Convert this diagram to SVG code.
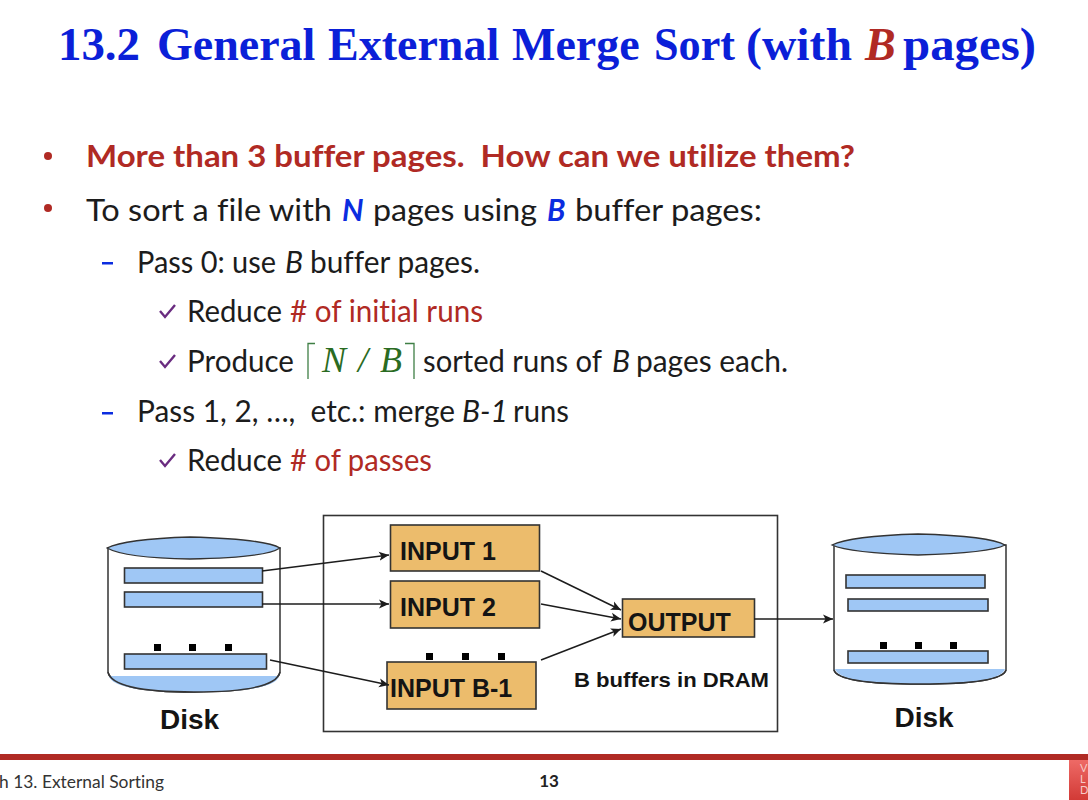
<svg xmlns="http://www.w3.org/2000/svg" width="1088" height="800" viewBox="0 0 1088 800">
<style>
text{font-variant-ligatures:none;white-space:pre}
.t{font-family:"Liberation Serif",serif;font-weight:700;font-size:46px;fill:#0b1fd8}
.b{font-family:Lato,"Open Sans",sans-serif;font-size:30px;fill:#1c1c1c}
.i{font-style:italic}
.e{font-style:italic;font-weight:700;fill:#0b2ce0}
.r{fill:#b02a24}
.a{font-family:"Liberation Sans",Arial,sans-serif;font-weight:700;fill:#141414}
.m{font-family:"Liberation Serif",serif;font-style:italic;font-size:36px;fill:#2a6b22}
.buf{fill:#ecbc6c;stroke:#333;stroke-width:1.6}
.pg{fill:#9fc7f5;stroke:#333;stroke-width:1.6}
.cyl{fill:#fff;stroke:#333;stroke-width:1.5}
.fill{fill:#9fc7f5;stroke:#333;stroke-width:1.3}
.dot{fill:#000}
.c{fill:none;stroke:#1c1c1c;stroke-width:1.5;marker-end:url(#ah)}
</style>
<defs>
<marker id="ah" markerUnits="userSpaceOnUse" markerWidth="11" markerHeight="10" refX="10" refY="5" orient="auto"><path d="M0 .5L10 5L0 9.500L2.500 5Z" fill="#1c1c1c"/></marker>
<linearGradient id="logo" x1="0" y1="0" x2="0" y2="1"><stop offset="0" stop-color="#ee6a66"/><stop offset="1" stop-color="#d23a36"/></linearGradient>
</defs>
<rect width="1088" height="800" fill="#fff"/>
<g id="title">
<text class="t" x="58" y="60" textLength="82" lengthAdjust="spacingAndGlyphs">13.2</text>
<text class="t" x="157" y="60">General</text>
<text class="t" x="328" y="60">External</text>
<text class="t" x="512" y="60">Merge</text>
<text class="t" x="654" y="60" textLength="81" lengthAdjust="spacingAndGlyphs">Sort</text>
<text class="t" x="746" y="60" textLength="106" lengthAdjust="spacingAndGlyphs">(with</text>
<text class="t r" x="865" y="60" font-style="italic">B</text>
<text class="t" x="903" y="60" textLength="133" lengthAdjust="spacingAndGlyphs">pages)</text>
</g>
<g id="bullets">
<circle cx="48" cy="156" r="4" fill="#b02a24"/><circle cx="48" cy="208" r="4" fill="#b02a24"/>
<rect x="102" y="262" width="11" height="2.500" fill="#0b2ce0"/><rect x="102" y="412" width="11" height="2.500" fill="#0b2ce0"/>
<path d="M160 311l5 6l10-12M160 361l5 6l10-12M160 460l5 6l10-12" fill="none" stroke="#6a2c80" stroke-width="2.400"/>
</g>
<g id="body">
<text class="b r" x="86" y="167" font-weight="700" textLength="769" lengthAdjust="spacingAndGlyphs">More than 3 buffer pages.  How can we utilize them?</text>
<text class="b" x="86" y="221" textLength="246" lengthAdjust="spacingAndGlyphs">To sort a file with</text>
<text class="b e" x="342" y="221">N</text>
<text class="b" x="373" y="221" textLength="164" lengthAdjust="spacingAndGlyphs">pages using</text>
<text class="b e" x="547" y="221">B</text>
<text class="b" x="575" y="221" textLength="187" lengthAdjust="spacingAndGlyphs">buffer pages:</text>
<text class="b" x="137" y="273" textLength="139" lengthAdjust="spacingAndGlyphs">Pass 0: use</text>
<text class="b i" x="285" y="273">B</text>
<text class="b" x="310" y="273" textLength="170" lengthAdjust="spacingAndGlyphs">buffer pages.</text>
<text class="b" x="187" y="322" textLength="95" lengthAdjust="spacingAndGlyphs">Reduce</text>
<text class="b r" x="290" y="322" textLength="193" lengthAdjust="spacingAndGlyphs"># of initial runs</text>
<text class="b" x="187" y="372" textLength="107" lengthAdjust="spacingAndGlyphs">Produce</text>
<g id="formula" fill="none" stroke="#3f7f45" stroke-width="1.3"><path d="M315 343.500H308V379M405 343.500H414V379"/></g>
<text class="m" x="322" y="372">N</text><text class="m" x="358" y="372" font-weight="400">/</text><text class="m" x="380" y="372">B</text>
<text class="b" x="423" y="372" textLength="179" lengthAdjust="spacingAndGlyphs">sorted runs of</text>
<text class="b i" x="612" y="372">B</text>
<text class="b" x="636" y="372" textLength="152" lengthAdjust="spacingAndGlyphs">pages each.</text>
<text class="b" x="137" y="422" textLength="318" lengthAdjust="spacingAndGlyphs">Pass 1, 2, …,  etc.: merge</text>
<text class="b i" x="462" y="422">B-1</text>
<text class="b" x="513" y="422" textLength="56" lengthAdjust="spacingAndGlyphs">runs</text>
<text class="b" x="187" y="471" textLength="95" lengthAdjust="spacingAndGlyphs">Reduce</text>
<text class="b r" x="290" y="471" textLength="142" lengthAdjust="spacingAndGlyphs"># of passes</text>
</g>
<g id="dram"><rect x="323.500" y="515.500" width="454" height="216" fill="#fff" stroke="#333" stroke-width="1.6"/>
<text class="a" x="574" y="687" font-size="20.500" textLength="195" lengthAdjust="spacingAndGlyphs">B buffers in DRAM</text></g>

<g id="disk-left">
<path class="cyl" d="M108 548V672Q112 692 194 692Q276 692 280 672V548Z"/>
<path d="M109 676H279Q275 692 194 692Q113 692 109 676Z" fill="#9fc7f5"/>
<path d="M108 672Q112 692 194 692Q276 692 280 672" fill="none" stroke="#333" stroke-width="1.5"/>
<path class="fill" d="M107 548Q125 539 190 537Q265 539 280 548Q265 558 190 559Q125 558 107 548Z"/>
<rect class="pg" x="124.500" y="568" width="138" height="15"/>
<rect class="pg" x="124.500" y="592" width="138" height="15"/>
<rect class="pg" x="124.500" y="654" width="142" height="15"/>
<rect class="dot" x="154" y="644" width="7" height="7"/><rect class="dot" x="189" y="644" width="7" height="7"/><rect class="dot" x="225" y="644" width="7" height="7"/>
<text class="a" x="189.500" y="729" font-size="28" text-anchor="middle">Disk</text>
</g>
<g id="input-1"><rect class="buf" x="390.500" y="525" width="149" height="46"/><text class="a" x="400" y="560" font-size="25">INPUT 1</text></g>
<g id="input-2"><rect class="buf" x="390.500" y="581" width="149" height="47"/><text class="a" x="400" y="616" font-size="25">INPUT 2</text></g>
<g id="input-b-1"><rect class="buf" x="387" y="662" width="149" height="47"/><text class="a" x="390" y="697" font-size="25">INPUT B-1</text>
<rect class="dot" x="426" y="653" width="7" height="7"/><rect class="dot" x="462" y="653" width="7" height="7"/><rect class="dot" x="498" y="653" width="7" height="7"/></g>
<g id="output"><rect class="buf" x="622.500" y="599" width="132" height="38"/><text class="a" x="628" y="631" font-size="25">OUTPUT</text></g>
<g id="disk-right">
<path class="cyl" d="M834 545V670Q838 684 920 684Q1002 684 1006 670V545Z"/>
<path d="M835 669H1005Q1001 684 920 684Q839 684 835 669Z" fill="#9fc7f5"/>
<path d="M834 670Q838 684 920 684Q1002 684 1006 670" fill="none" stroke="#333" stroke-width="1.5"/>
<path class="fill" d="M832 545Q850 536 918 534Q990 536 1005 545Q990 553 918 555Q850 553 832 545Z"/>
<rect class="pg" x="846" y="575" width="139" height="13"/>
<rect class="pg" x="848" y="599" width="140" height="12"/>
<rect class="pg" x="848" y="651" width="140" height="12"/>
<rect class="dot" x="880" y="642" width="7" height="7"/><rect class="dot" x="915" y="642" width="7" height="7"/><rect class="dot" x="950" y="642" width="7" height="7"/>
<text class="a" x="924" y="727" font-size="28" text-anchor="middle">Disk</text>
</g>
<g id="connectors">
<path class="c" d="M262 571L389 555"/>
<path class="c" d="M262 604H389"/>
<path class="c" d="M270 660L389 685"/>
<path class="c" d="M541 571L621 610"/>
<path class="c" d="M541 604L621 619"/>
<path class="c" d="M541 660L621 629"/>
<path class="c" d="M754 619H833"/>
</g>
<g id="footer">
<rect x="0" y="754" width="1088" height="6" fill="#b02a24"/>
<text x="-1" y="788" font-family="Lato,sans-serif" font-size="18" fill="#333" textLength="165" lengthAdjust="spacingAndGlyphs">h 13. External Sorting</text>
<text x="549" y="787" font-family="Lato,sans-serif" font-weight="700" font-size="17" fill="#222" text-anchor="middle">13</text>
<rect x="1069" y="760" width="19" height="40" fill="url(#logo)"/>
<text x="1080" y="772" font-family="Lato,sans-serif" font-size="11" fill="#f6c9c7">V</text>
<text x="1080" y="783" font-family="Lato,sans-serif" font-size="11" fill="#f6c9c7">L</text>
<text x="1080" y="794" font-family="Lato,sans-serif" font-size="11" fill="#f6c9c7">D</text>
</g>
</svg>
